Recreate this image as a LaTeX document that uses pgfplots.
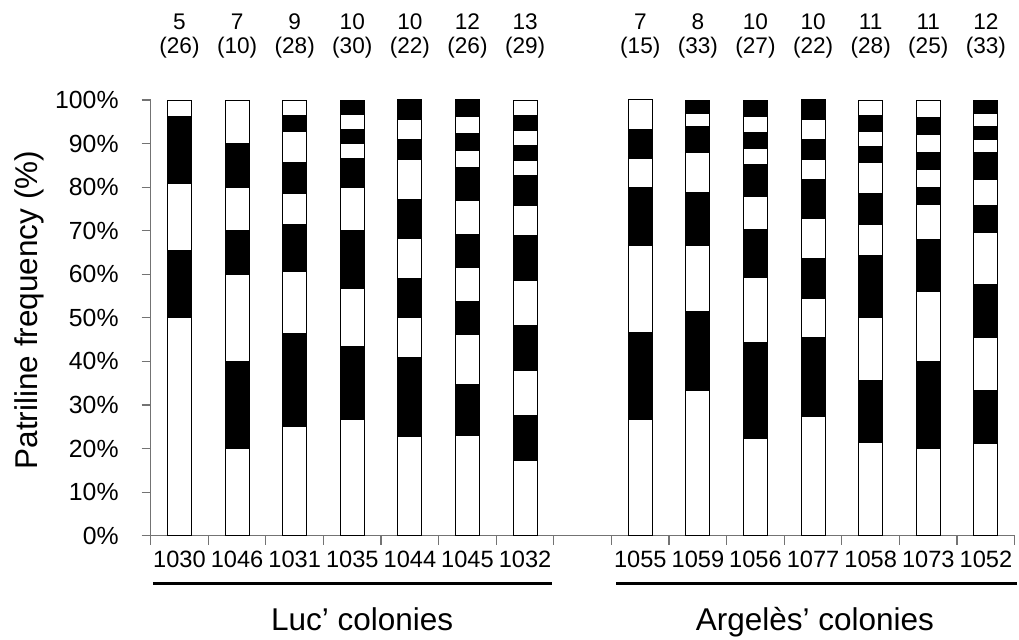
\documentclass[border=0pt]{standalone}
\usepackage{fontspec}
\setmainfont{Liberation Sans}
\usepackage{pgfplots}
\usepackage{pgfplotstable}
\pgfplotsset{compat=1.18}

% segment shares (%) from the bottom of each bar; odd = white, even = black
\pgfplotstableread{
x  s1    s2    s3    s4    s5    s6    s7    s8    s9    s10   s11   s12   s13
0  50    15.38 15.38 15.38 3.85  0     0     0     0     0     0     0     0
1  20    20    20    10    10    10    10    0     0     0     0     0     0
2  25    21.43 14.29 10.71 7.14  7.14  7.14  3.57  3.57  0     0     0     0
3  26.67 16.67 13.33 13.33 10    6.67  3.33  3.33  3.33  3.33  0     0     0
4  22.73 18.18 9.09  9.09  9.09  9.09  9.09  4.55  4.55  4.55  0     0     0
5  23.08 11.54 11.54 7.69  7.69  7.69  7.69  7.69  3.85  3.85  3.85  3.85  0
6  17.24 10.34 10.34 10.34 10.34 10.34 6.90  6.90  3.45  3.45  3.45  3.45  3.45
8  26.67 20    20    13.33 6.67  6.67  6.67  0     0     0     0     0     0
9  33.33 18.18 15.15 12.12 9.09  6.06  3.03  3.03  0     0     0     0     0
10 22.22 22.22 14.81 11.11 7.41  7.41  3.70  3.70  3.70  3.70  0     0     0
11 27.27 18.18 9.09  9.09  9.09  9.09  4.55  4.55  4.55  4.55  0     0     0
12 21.43 14.29 14.29 14.29 7.14  7.14  7.14  3.57  3.57  3.57  3.57  0     0
13 20    20    16    12    8     4     4     4     4     4     4     0     0
14 21.21 12.12 12.12 12.12 12.12 6.06  6.06  6.06  3.03  3.03  3.03  3.03  0
}\segs

\newcommand{\toplabfont}{\fontsize{11.3}{13}\selectfont}
\newcommand{\toplab}[3]{%
  \node[anchor=base,font=\toplabfont,yshift=35.5pt,inner sep=0pt] at (axis cs:#1,100) {#2};
  \node[anchor=base,font=\toplabfont,yshift=23.2pt,inner sep=0pt] at (axis cs:#1,100) {(#3)};}

\begin{document}
\begin{tikzpicture}
\begin{axis}[
  scale only axis, width=432pt, height=217.85pt,
  xmin=-0.5, xmax=14.5, ymin=0, ymax=100,
  clip=false,
  ybar stacked, bar width=12pt,
  axis x line=bottom, axis y line=left,
  axis line style={gray!90!black, line width=0.6pt, -},
  tick align=outside,
  xtick={0,1,2,3,4,5,6,8,9,10,11,12,13,14},
  xticklabels={1030,1046,1031,1035,1044,1045,1032,1055,1059,1056,1077,1058,1073,1052},
  major x tick style={draw=none},
  minor xtick={-0.5,0.5,...,14.5},
  minor tick length=4.5pt,
  x tick style={gray!90!black, line width=0.6pt},
  xticklabel style={font=\fontsize{11.8}{14}\selectfont, anchor=base, inner sep=0pt, yshift=-11.6pt},
  ytick={0,10,...,100},
  yticklabel={\pgfmathprintnumber{\tick}\%},
  major tick length=4.5pt,
  y tick style={gray!90!black, line width=0.6pt},
  yticklabel style={font=\fontsize{12.4}{14}\selectfont, anchor=east, inner sep=0pt, xshift=-11.35pt},
  /pgf/number format/assume math mode=true,
  ylabel={Patriline frequency (\%)},
  ylabel style={font=\fontsize{15.75}{18}\selectfont, at={(axis description cs:-0.1409,0.518)}, anchor=center},
]
\addplot[fill=white, draw=black, line width=0.5pt] table[x=x,y=s1] {\segs};
\addplot[fill=black, draw=black, line width=0.5pt] table[x=x,y=s2] {\segs};
\addplot[fill=white, draw=black, line width=0.5pt] table[x=x,y=s3] {\segs};
\addplot[fill=black, draw=black, line width=0.5pt] table[x=x,y=s4] {\segs};
\addplot[fill=white, draw=black, line width=0.5pt] table[x=x,y=s5] {\segs};
\addplot[fill=black, draw=black, line width=0.5pt] table[x=x,y=s6] {\segs};
\addplot[fill=white, draw=black, line width=0.5pt] table[x=x,y=s7] {\segs};
\addplot[fill=black, draw=black, line width=0.5pt] table[x=x,y=s8] {\segs};
\addplot[fill=white, draw=black, line width=0.5pt] table[x=x,y=s9] {\segs};
\addplot[fill=black, draw=black, line width=0.5pt] table[x=x,y=s10] {\segs};
\addplot[fill=white, draw=black, line width=0.5pt] table[x=x,y=s11] {\segs};
\addplot[fill=black, draw=black, line width=0.5pt] table[x=x,y=s12] {\segs};
\addplot[fill=white, draw=black, line width=0.5pt] table[x=x,y=s13] {\segs};

\toplab{0}{5}{26}
\toplab{1}{7}{10}
\toplab{2}{9}{28}
\toplab{3}{10}{30}
\toplab{4}{10}{22}
\toplab{5}{12}{26}
\toplab{6}{13}{29}
\toplab{8}{7}{15}
\toplab{9}{8}{33}
\toplab{10}{10}{27}
\toplab{11}{10}{22}
\toplab{12}{11}{28}
\toplab{13}{11}{25}
\toplab{14}{12}{33}

\draw[line width=1.5pt] (axis cs:-0.46,-11.0) -- (axis cs:6.47,-11.0);
\draw[line width=1.5pt] (axis cs:7.58,-11.0) -- (axis cs:14.54,-11.0);
\node[anchor=base, inner sep=0pt, font=\fontsize{15.75}{18}\selectfont] at (axis cs:3.17,-21.7) {Luc’ colonies};
\node[anchor=base, inner sep=0pt, font=\fontsize{15.75}{18}\selectfont] at (axis cs:11.03,-21.7) {Argelès’ colonies};
\end{axis}
\pgfresetboundingbox
\path (-75.35pt,-51.65pt) rectangle (434.15pt,267.85pt);
\end{tikzpicture}
\end{document}
